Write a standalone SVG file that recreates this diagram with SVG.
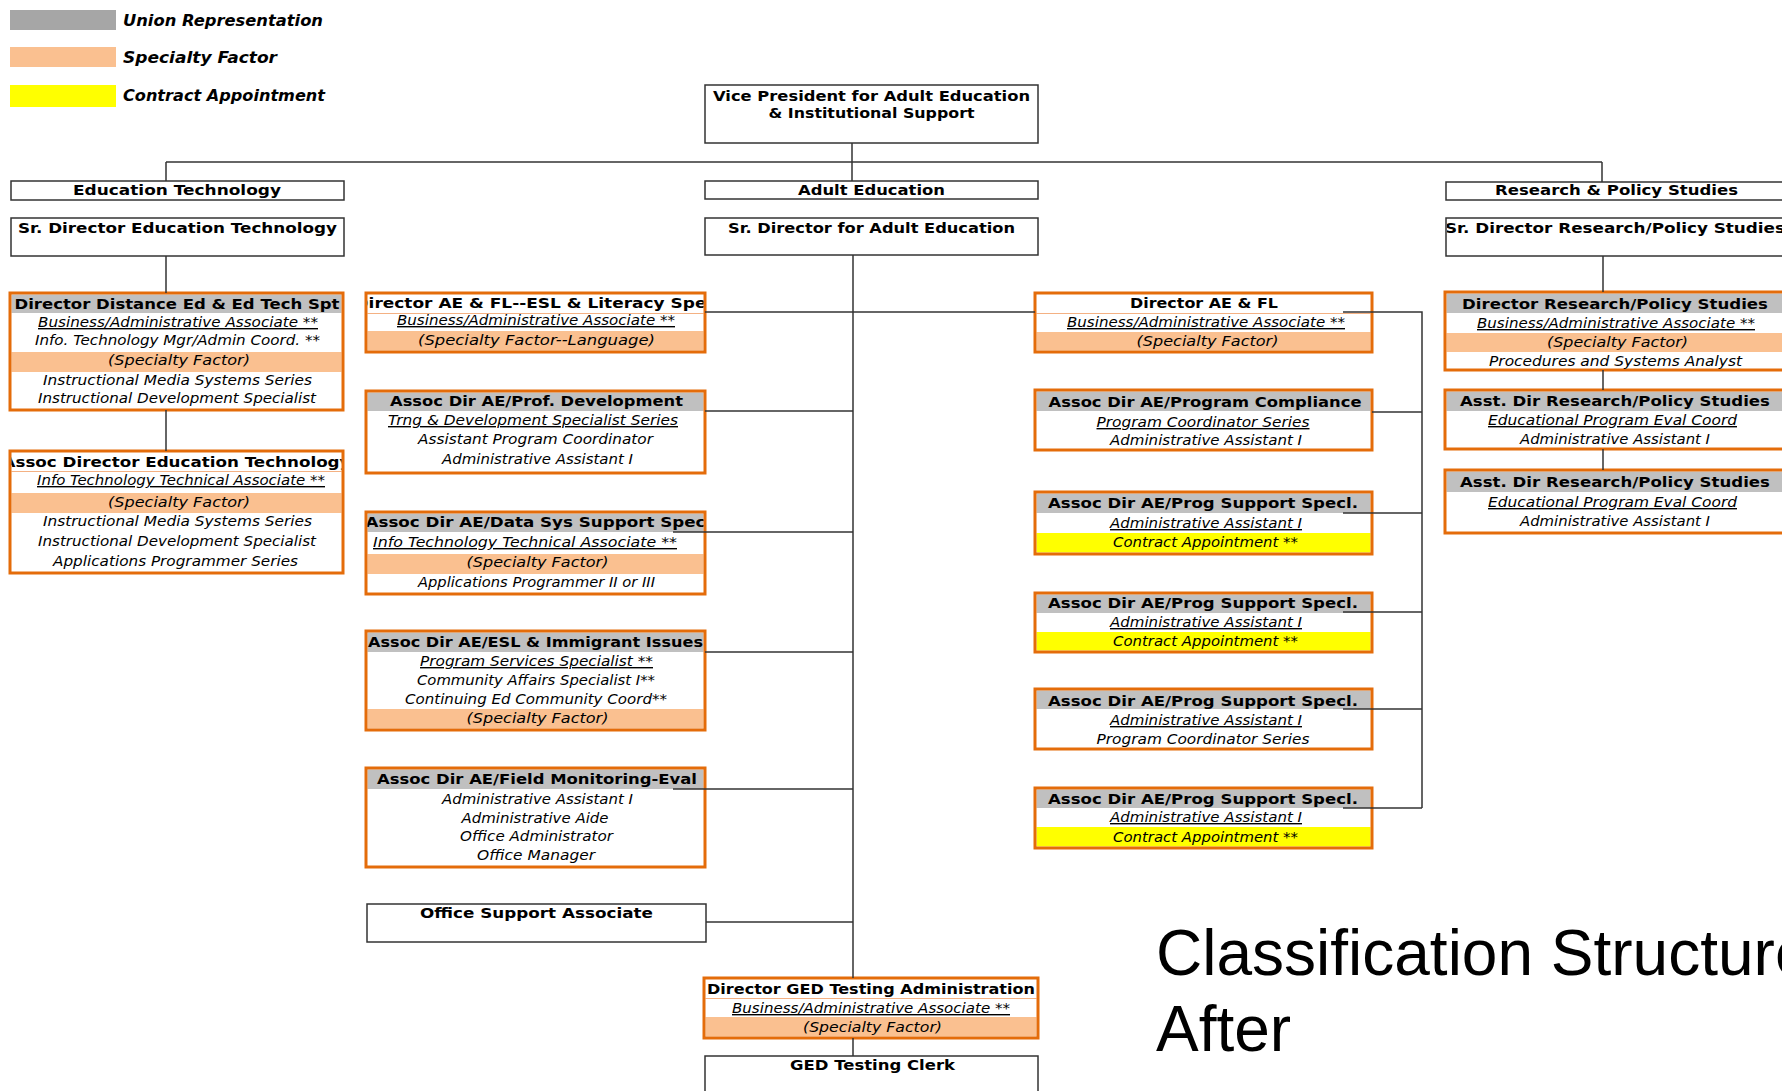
<svg xmlns="http://www.w3.org/2000/svg" width="1782" height="1091" viewBox="0 0 1782 1091">
<style>
.hdr{font-family:"DejaVu Sans",sans-serif;font-weight:bold;font-size:14px;text-anchor:middle;fill:#000}
.row{font-family:"DejaVu Sans",sans-serif;font-style:italic;font-size:14px;text-anchor:middle;fill:#000}
.u{text-decoration:underline}
.leg{font-family:"DejaVu Sans",sans-serif;font-weight:bold;font-style:italic;font-size:15px;fill:#000}
.ob{fill:none;stroke:#E46C0A;stroke-width:3}
.obg{fill:#fff}
.bb{fill:#fff;stroke:#333;stroke-width:1.5}
.gh{fill:#C0C0C0}
.sf{fill:#FAC090}
.ca{fill:#FFFF00}
.sep{stroke:#F4B183;stroke-width:1}
.conn path{fill:none;stroke:#333;stroke-width:1.5}
.title{font-family:"Liberation Sans",Arial,sans-serif;font-size:64px;fill:#000}
</style>
<defs>
<clipPath id="c1"><rect x="11.5" y="452.5" width="330" height="19"/></clipPath>
<clipPath id="c2"><rect x="367.5" y="294.5" width="336" height="19"/></clipPath>
<clipPath id="c3"><rect x="367.5" y="513.5" width="336" height="19"/></clipPath>
<clipPath id="c4"><rect x="1447" y="219" width="340" height="36"/></clipPath>
</defs>
<rect width="1782" height="1091" fill="#fff"/>

<g id="legend">
<rect x="10" y="10" width="106" height="20" fill="#A6A6A6"/>
<text class="leg" x="123" y="26" textLength="200" lengthAdjust="spacingAndGlyphs">Union Representation</text>
<rect x="10" y="47" width="106" height="20" fill="#FAC090"/>
<text class="leg" x="123" y="63" textLength="154" lengthAdjust="spacingAndGlyphs">Specialty Factor</text>
<rect x="10" y="85" width="106" height="22" fill="#FFFF00"/>
<text class="leg" x="123" y="101" textLength="202" lengthAdjust="spacingAndGlyphs">Contract Appointment</text>
</g>

<g id="n-vp">
<rect class="bb" x="705" y="85" width="333" height="58"/>
<text class="hdr" x="871.5" y="101" textLength="317" lengthAdjust="spacingAndGlyphs">Vice President for Adult Education</text>
<text class="hdr" x="871.5" y="118" textLength="206" lengthAdjust="spacingAndGlyphs">&amp; Institutional Support</text>
</g>

<g id="n-edtech">
<rect class="bb" x="11" y="181" width="333" height="19"/>
<text class="hdr" x="177" y="195" textLength="208" lengthAdjust="spacingAndGlyphs">Education Technology</text>
</g>
<g id="n-srdir-edtech">
<rect class="bb" x="11" y="218" width="333" height="38"/>
<text class="hdr" x="177.5" y="233" textLength="319" lengthAdjust="spacingAndGlyphs">Sr. Director Education Technology</text>
</g>
<g id="n-dir-distance">
<rect class="obg" x="10" y="293" width="333" height="117"/>
<rect class="gh" x="11.5" y="294.5" width="330" height="18.5"/>
<rect class="sf" x="11.5" y="352" width="330" height="20"/>
<rect class="ob" x="10" y="293" width="333" height="117"/>
<text class="hdr" x="177" y="309" textLength="325" lengthAdjust="spacingAndGlyphs">Director Distance Ed &amp; Ed Tech Spt</text>
<text class="row u" x="178" y="327" textLength="280" lengthAdjust="spacingAndGlyphs">Business/Administrative Associate **</text>
<text class="row" x="177.5" y="345" textLength="285" lengthAdjust="spacingAndGlyphs">Info. Technology Mgr/Admin Coord. **</text>
<text class="row" x="179" y="365" textLength="142" lengthAdjust="spacingAndGlyphs">(Specialty Factor)</text>
<text class="row" x="177.5" y="385" textLength="269" lengthAdjust="spacingAndGlyphs">Instructional Media Systems Series</text>
<text class="row" x="177" y="403" textLength="278" lengthAdjust="spacingAndGlyphs">Instructional Development Specialist</text>
</g>
<g id="n-assoc-edtech">
<rect class="obg" x="10" y="451" width="333" height="122"/>
<line class="sep" x1="11.5" y1="471.5" x2="341.5" y2="471.5"/>
<rect class="sf" x="11.5" y="493" width="330" height="20"/>
<rect class="ob" x="10" y="451" width="333" height="122"/>
<text class="hdr" x="176.5" y="467" textLength="348" lengthAdjust="spacingAndGlyphs" clip-path="url(#c1)">Assoc Director Education Technology</text>
<text class="row u" x="181" y="485" textLength="288" lengthAdjust="spacingAndGlyphs">Info Technology Technical Associate **</text>
<text class="row" x="179" y="507" textLength="142" lengthAdjust="spacingAndGlyphs">(Specialty Factor)</text>
<text class="row" x="177.5" y="526" textLength="269" lengthAdjust="spacingAndGlyphs">Instructional Media Systems Series</text>
<text class="row" x="177" y="546" textLength="278" lengthAdjust="spacingAndGlyphs">Instructional Development Specialist</text>
<text class="row" x="175.5" y="566" textLength="245" lengthAdjust="spacingAndGlyphs">Applications Programmer Series</text>
</g>

<g id="n-dir-aefl-esl">
<rect class="obg" x="366" y="293" width="339" height="59"/>
<line class="sep" x1="367.5" y1="313.5" x2="703.5" y2="313.5"/>
<rect class="sf" x="367.5" y="331" width="336" height="19.5"/>
<rect class="ob" x="366" y="293" width="339" height="59"/>
<text class="hdr" x="535.5" y="308" textLength="362" lengthAdjust="spacingAndGlyphs" clip-path="url(#c2)">Director AE &amp; FL--ESL &amp; Literacy Spec</text>
<text class="row u" x="536" y="325" textLength="278" lengthAdjust="spacingAndGlyphs">Business/Administrative Associate **</text>
<text class="row" x="536.5" y="345" textLength="237" lengthAdjust="spacingAndGlyphs">(Specialty Factor--Language)</text>
</g>
<g id="n-assoc-profdev">
<rect class="obg" x="366" y="391" width="339" height="82"/>
<rect class="gh" x="367.5" y="392.5" width="336" height="18.5"/>
<rect class="ob" x="366" y="391" width="339" height="82"/>
<text class="hdr" x="536.5" y="406" textLength="293" lengthAdjust="spacingAndGlyphs">Assoc Dir AE/Prof. Development</text>
<text class="row u" x="533" y="425" textLength="290" lengthAdjust="spacingAndGlyphs">Trng &amp; Development Specialist Series</text>
<text class="row" x="535.5" y="444" textLength="235" lengthAdjust="spacingAndGlyphs">Assistant Program Coordinator</text>
<text class="row" x="537.5" y="464" textLength="191" lengthAdjust="spacingAndGlyphs">Administrative Assistant I</text>
</g>
<g id="n-assoc-datasys">
<rect class="obg" x="366" y="512" width="339" height="82"/>
<rect class="gh" x="367.5" y="513.5" width="336" height="18.5"/>
<rect class="sf" x="367.5" y="554" width="336" height="20"/>
<rect class="ob" x="366" y="512" width="339" height="82"/>
<text class="hdr" x="535.5" y="527" textLength="340" lengthAdjust="spacingAndGlyphs" clip-path="url(#c3)">Assoc Dir AE/Data Sys Support Spec</text>
<text class="row u" x="525" y="547" textLength="304" lengthAdjust="spacingAndGlyphs">Info Technology Technical Associate **</text>
<text class="row" x="537.5" y="567" textLength="142" lengthAdjust="spacingAndGlyphs">(Specialty Factor)</text>
<text class="row" x="536.5" y="587" textLength="237" lengthAdjust="spacingAndGlyphs">Applications Programmer II or III</text>
</g>
<g id="n-assoc-esl">
<rect class="obg" x="366" y="631" width="339" height="99"/>
<rect class="gh" x="367.5" y="632.5" width="336" height="19.5"/>
<rect class="sf" x="367.5" y="709" width="336" height="19.5"/>
<rect class="ob" x="366" y="631" width="339" height="99"/>
<text class="hdr" x="535.5" y="647" textLength="335" lengthAdjust="spacingAndGlyphs">Assoc Dir AE/ESL &amp; Immigrant Issues</text>
<text class="row u" x="536.5" y="666" textLength="233" lengthAdjust="spacingAndGlyphs">Program Services Specialist **</text>
<text class="row" x="536" y="685" textLength="238" lengthAdjust="spacingAndGlyphs">Community Affairs Specialist I**</text>
<text class="row" x="536" y="704" textLength="262" lengthAdjust="spacingAndGlyphs">Continuing Ed Community Coord**</text>
<text class="row" x="537.5" y="723" textLength="142" lengthAdjust="spacingAndGlyphs">(Specialty Factor)</text>
</g>
<g id="n-assoc-field">
<rect class="obg" x="366" y="768" width="339" height="99"/>
<rect class="gh" x="367.5" y="769.5" width="336" height="19.5"/>
<rect class="ob" x="366" y="768" width="339" height="99"/>
<text class="hdr" x="537" y="784" textLength="320" lengthAdjust="spacingAndGlyphs">Assoc Dir AE/Field Monitoring-Eval</text>
<text class="row" x="537.5" y="804" textLength="191" lengthAdjust="spacingAndGlyphs">Administrative Assistant I</text>
<text class="row" x="535" y="823" textLength="147" lengthAdjust="spacingAndGlyphs">Administrative Aide</text>
<text class="row" x="536.5" y="841" textLength="153" lengthAdjust="spacingAndGlyphs">Office Administrator</text>
<text class="row" x="536" y="860" textLength="118" lengthAdjust="spacingAndGlyphs">Office Manager</text>
</g>
<g id="n-office-support">
<rect class="bb" x="367" y="904" width="339" height="38"/>
<text class="hdr" x="536.5" y="918" textLength="233" lengthAdjust="spacingAndGlyphs">Office Support Associate</text>
</g>

<g id="n-adulted">
<rect class="bb" x="705" y="181" width="333" height="18"/>
<text class="hdr" x="871.5" y="195" textLength="147" lengthAdjust="spacingAndGlyphs">Adult Education</text>
</g>
<g id="n-srdir-ae">
<rect class="bb" x="705" y="218" width="333" height="37"/>
<text class="hdr" x="871.5" y="233" textLength="287" lengthAdjust="spacingAndGlyphs">Sr. Director for Adult Education</text>
</g>
<g id="n-dir-ged">
<rect class="obg" x="704" y="978" width="334" height="60"/>
<line class="sep" x1="705.5" y1="998.5" x2="1036.5" y2="998.5"/>
<rect class="sf" x="705.5" y="1017" width="331" height="19.5"/>
<rect class="ob" x="704" y="978" width="334" height="60"/>
<text class="hdr" x="871" y="994" textLength="328" lengthAdjust="spacingAndGlyphs">Director GED Testing Administration</text>
<text class="row u" x="871" y="1013" textLength="278" lengthAdjust="spacingAndGlyphs">Business/Administrative Associate **</text>
<text class="row" x="872.5" y="1032" textLength="139" lengthAdjust="spacingAndGlyphs">(Specialty Factor)</text>
</g>
<g id="n-ged-clerk">
<rect class="bb" x="705" y="1056" width="333" height="60"/>
<text class="hdr" x="872.5" y="1070" textLength="165" lengthAdjust="spacingAndGlyphs">GED Testing Clerk</text>
</g>

<g id="n-dir-aefl">
<rect class="obg" x="1035" y="293" width="337" height="59"/>
<line class="sep" x1="1036.5" y1="313.5" x2="1370.5" y2="313.5"/>
<rect class="sf" x="1036.5" y="332" width="334" height="18.5"/>
<rect class="ob" x="1035" y="293" width="337" height="59"/>
<text class="hdr" x="1204" y="308" textLength="148" lengthAdjust="spacingAndGlyphs">Director AE &amp; FL</text>
<text class="row u" x="1206" y="327" textLength="278" lengthAdjust="spacingAndGlyphs">Business/Administrative Associate **</text>
<text class="row" x="1207.5" y="346" textLength="142" lengthAdjust="spacingAndGlyphs">(Specialty Factor)</text>
</g>
<g id="n-assoc-compliance">
<rect class="obg" x="1035" y="390" width="337" height="60"/>
<rect class="gh" x="1036.5" y="391.5" width="334" height="19.5"/>
<rect class="ob" x="1035" y="390" width="337" height="60"/>
<text class="hdr" x="1205" y="407" textLength="313" lengthAdjust="spacingAndGlyphs">Assoc Dir AE/Program Compliance</text>
<text class="row u" x="1203" y="427" textLength="213" lengthAdjust="spacingAndGlyphs">Program Coordinator Series</text>
<text class="row" x="1206" y="445" textLength="192" lengthAdjust="spacingAndGlyphs">Administrative Assistant I</text>
</g>
<g id="n-assoc-progsup-1">
<rect class="obg" x="1035" y="492" width="337" height="62"/>
<rect class="gh" x="1036.5" y="493.5" width="334" height="19.5"/>
<rect class="ca" x="1036.5" y="533" width="334" height="19.5"/>
<rect class="ob" x="1035" y="492" width="337" height="62"/>
<text class="hdr" x="1203" y="508" textLength="310" lengthAdjust="spacingAndGlyphs">Assoc Dir AE/Prog Support Specl.</text>
<text class="row u" x="1206" y="528" textLength="192" lengthAdjust="spacingAndGlyphs">Administrative Assistant I</text>
<text class="row" x="1205.5" y="547" textLength="185" lengthAdjust="spacingAndGlyphs">Contract Appointment **</text>
</g>
<g id="n-assoc-progsup-2">
<rect class="obg" x="1035" y="593" width="337" height="59"/>
<rect class="gh" x="1036.5" y="594.5" width="334" height="18.5"/>
<rect class="ca" x="1036.5" y="632" width="334" height="18.5"/>
<rect class="ob" x="1035" y="593" width="337" height="59"/>
<text class="hdr" x="1203" y="608" textLength="310" lengthAdjust="spacingAndGlyphs">Assoc Dir AE/Prog Support Specl.</text>
<text class="row u" x="1206" y="627" textLength="192" lengthAdjust="spacingAndGlyphs">Administrative Assistant I</text>
<text class="row" x="1205.5" y="646" textLength="185" lengthAdjust="spacingAndGlyphs">Contract Appointment **</text>
</g>
<g id="n-assoc-progsup-3">
<rect class="obg" x="1035" y="689" width="337" height="60"/>
<rect class="gh" x="1036.5" y="690.5" width="334" height="18.5"/>
<rect class="ob" x="1035" y="689" width="337" height="60"/>
<text class="hdr" x="1203" y="706" textLength="310" lengthAdjust="spacingAndGlyphs">Assoc Dir AE/Prog Support Specl.</text>
<text class="row u" x="1206" y="725" textLength="192" lengthAdjust="spacingAndGlyphs">Administrative Assistant I</text>
<text class="row" x="1203" y="744" textLength="213" lengthAdjust="spacingAndGlyphs">Program Coordinator Series</text>
</g>
<g id="n-assoc-progsup-4">
<rect class="obg" x="1035" y="788" width="337" height="60"/>
<rect class="gh" x="1036.5" y="789.5" width="334" height="18.5"/>
<rect class="ca" x="1036.5" y="827" width="334" height="19.5"/>
<rect class="ob" x="1035" y="788" width="337" height="60"/>
<text class="hdr" x="1203" y="804" textLength="310" lengthAdjust="spacingAndGlyphs">Assoc Dir AE/Prog Support Specl.</text>
<text class="row u" x="1206" y="822" textLength="192" lengthAdjust="spacingAndGlyphs">Administrative Assistant I</text>
<text class="row" x="1205.5" y="842" textLength="185" lengthAdjust="spacingAndGlyphs">Contract Appointment **</text>
</g>

<g id="n-research">
<rect class="bb" x="1446" y="182" width="340" height="18"/>
<text class="hdr" x="1616.5" y="195" textLength="243" lengthAdjust="spacingAndGlyphs">Research &amp; Policy Studies</text>
</g>
<g id="n-srdir-research">
<rect class="bb" x="1446" y="218" width="340" height="38"/>
<text class="hdr" x="1615" y="233" textLength="340" lengthAdjust="spacingAndGlyphs" clip-path="url(#c4)">Sr. Director Research/Policy Studies</text>
</g>
<g id="n-dir-research">
<rect class="obg" x="1445" y="292" width="341" height="78"/>
<rect class="gh" x="1446.5" y="293.5" width="338" height="19.5"/>
<rect class="sf" x="1446.5" y="333" width="338" height="19"/>
<rect class="ob" x="1445" y="292" width="341" height="78"/>
<text class="hdr" x="1615" y="309" textLength="306" lengthAdjust="spacingAndGlyphs">Director Research/Policy Studies</text>
<text class="row u" x="1616" y="328" textLength="278" lengthAdjust="spacingAndGlyphs">Business/Administrative Associate **</text>
<text class="row" x="1617.5" y="347" textLength="141" lengthAdjust="spacingAndGlyphs">(Specialty Factor)</text>
<text class="row" x="1615.5" y="366" textLength="253" lengthAdjust="spacingAndGlyphs">Procedures and Systems Analyst</text>
</g>
<g id="n-asst-research-1">
<rect class="obg" x="1445" y="390" width="341" height="59"/>
<rect class="gh" x="1446.5" y="391.5" width="338" height="19.5"/>
<rect class="ob" x="1445" y="390" width="341" height="59"/>
<text class="hdr" x="1615" y="406" textLength="310" lengthAdjust="spacingAndGlyphs">Asst. Dir Research/Policy Studies</text>
<text class="row u" x="1612.5" y="425" textLength="249" lengthAdjust="spacingAndGlyphs">Educational Program Eval Coord</text>
<text class="row" x="1615" y="444" textLength="190" lengthAdjust="spacingAndGlyphs">Administrative Assistant I</text>
</g>
<g id="n-asst-research-2">
<rect class="obg" x="1445" y="470" width="341" height="63"/>
<rect class="gh" x="1446.5" y="471.5" width="338" height="20.5"/>
<rect class="ob" x="1445" y="470" width="341" height="63"/>
<text class="hdr" x="1615" y="487" textLength="310" lengthAdjust="spacingAndGlyphs">Asst. Dir Research/Policy Studies</text>
<text class="row u" x="1612.5" y="507" textLength="249" lengthAdjust="spacingAndGlyphs">Educational Program Eval Coord</text>
<text class="row" x="1615" y="526" textLength="190" lengthAdjust="spacingAndGlyphs">Administrative Assistant I</text>
</g>

<g id="connectors" class="conn">
<path d="M852 143V181"/>
<path d="M166 162H1602"/>
<path d="M166 162V181"/>
<path d="M1602 162V182"/>
<path d="M166 256V293"/>
<path d="M166 410V451"/>
<path d="M1603 256V292"/>
<path d="M1603 370V390"/>
<path d="M1603 449V470"/>
<path d="M853 255V978"/>
<path d="M853 1038V1056"/>
<path d="M705 312H1035"/>
<path d="M1343 312H1422V808"/>
<path d="M705 411H853"/>
<path d="M673 532H853"/>
<path d="M705 652H853"/>
<path d="M673 789H853"/>
<path d="M706 922H853"/>
<path d="M1372 412H1422"/>
<path d="M1343 513H1422"/>
<path d="M1343 612H1422"/>
<path d="M1343 709H1422"/>
<path d="M1343 808H1422"/>
</g>

<g id="title">
<text class="title" x="1156" y="975">Classification Structure</text>
<text class="title" x="1156" y="1051">After</text>
</g>
</svg>
